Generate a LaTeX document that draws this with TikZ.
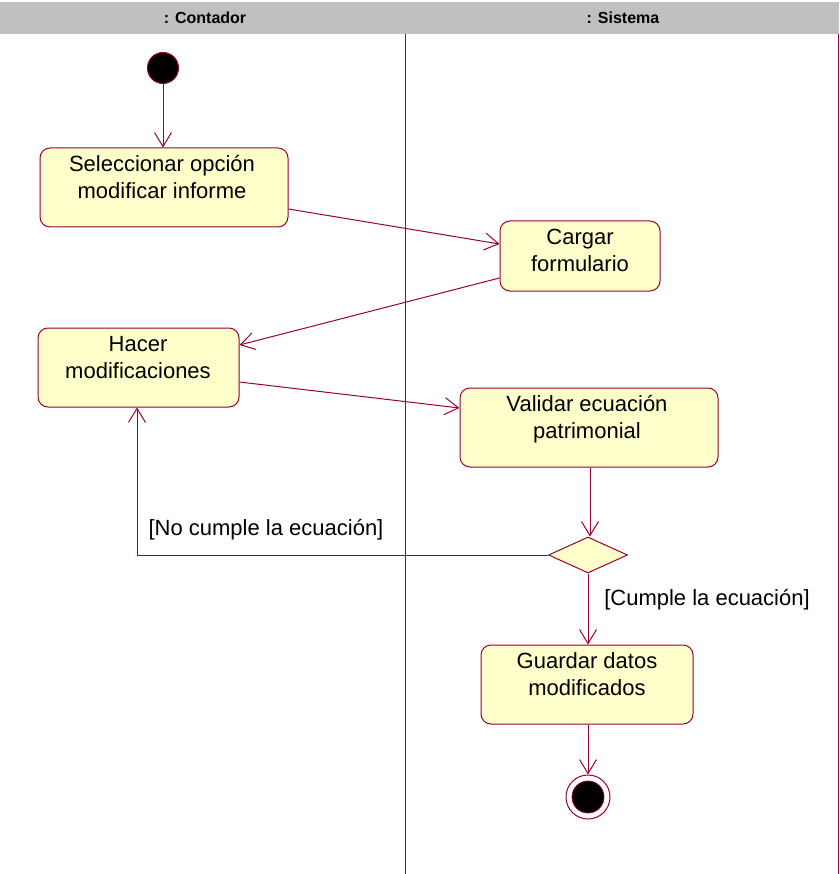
\documentclass[tikz,border=0pt]{standalone}
\usepackage{fontspec}
\setmainfont{Liberation Sans}
\usetikzlibrary{arrows.meta,shapes.geometric}
\definecolor{umlline}{RGB}{153,0,51}
\definecolor{umlfill}{RGB}{255,255,204}
\definecolor{lanehead}{RGB}{192,192,192}
\newcommand{\firstline}{\rule{0pt}{20pt}}
\begin{document}
\begin{tikzpicture}[x=1pt,y=-1pt,
  actbox/.style={draw=umlline,fill=umlfill,line width=1pt,rounded corners=10pt,
    minimum width=#1,inner sep=0pt},
  acttext/.style={font=\fontsize{22}{27}\selectfont,align=center,anchor=north,inner sep=0pt},
  flow/.style={draw=umlline,line width=1pt,-{Straight Barb[length=14pt,width=17pt,line width=1pt]}},
  guard/.style={font=\fontsize{22}{26}\selectfont,inner sep=0pt},
  headtext/.style={font=\fontsize{16}{18}\selectfont\bfseries,inner sep=0pt}]
\useasboundingbox (0,0) rectangle (839,874);

% swimlane header and separators
\fill[lanehead] (0,2) rectangle (839,34);
\node[headtext] (hc) at (205,18) {: Contador};
\node[headtext] (hs) at (623,18) {: Sistema};
\draw[umlline,line width=1pt] (405,34) -- (405,874);
\draw[umlline,line width=1pt] (838,34) -- (838,874);

% initial state
\node[circle,fill=black,draw=umlline,line width=1pt,minimum size=31pt,inner sep=0pt] (start) at (163,68) {};

% activities (text first baseline 23pt below the box top)
\node[actbox=248pt,minimum height=79pt] (b1) at (164,187.5) {};
\node[acttext] (t1) at (162,151) {\firstline Seleccionar opción\\modificar informe};

\node[actbox=160pt,minimum height=70pt] (b2) at (580,256) {};
\node[acttext] (t2) at (580,224) {\firstline Cargar\\formulario};

\node[actbox=201pt,minimum height=79pt] (b3) at (138.5,367.5) {};
\node[acttext] (t3) at (138,331) {\firstline Hacer\\modificaciones};

\node[actbox=258pt,minimum height=79pt] (b4) at (589,427.5) {};
\node[acttext] (t4) at (587,391) {\firstline Validar ecuación\\patrimonial};

\node[diamond,draw=umlline,fill=umlfill,line width=1pt,minimum width=79pt,minimum height=36pt,inner sep=0pt,aspect=2.2] (dec) at (588,555) {};

\node[actbox=212pt,minimum height=79pt] (b5) at (587,684.5) {};
\node[acttext] (t5) at (587,648) {\firstline Guardar datos\\modificados};

% final state
\node[circle,draw=umlline,fill=white,line width=1pt,minimum size=44pt,inner sep=0pt] (stop) at (588,797) {};
\node[circle,fill=black,draw=umlline,line width=0.8pt,minimum size=32pt,inner sep=0pt] (stopin) at (588,797) {};

% transitions
\draw[flow] (start.south) -- ([xshift=-1pt]b1.north);
\draw[flow] ([yshift=-21.5pt]b1.east) -- ([yshift=12pt]b2.west);
\draw[flow] ([yshift=-22pt]b2.west) -- ([yshift=22.5pt]b3.east);
\draw[flow] ([yshift=-14.5pt]b3.east) -- ([yshift=19.5pt]b4.west);
\draw[flow] ([xshift=1pt]b4.south) -- ([xshift=2pt]dec.north);
\draw[flow] (dec.west) -| ([xshift=-1.5pt]b3.south);
\draw[flow] (dec.south) -- ([xshift=1pt]b5.north);
\draw[flow] ([xshift=1pt]b5.south) -- (stop.north);

% guard labels
\node[guard] (g1) at (266,530) {[No cumple la ecuación]};
\node[guard] (g2) at (707,600) {[Cumple la ecuación]};
\end{tikzpicture}
\end{document}
